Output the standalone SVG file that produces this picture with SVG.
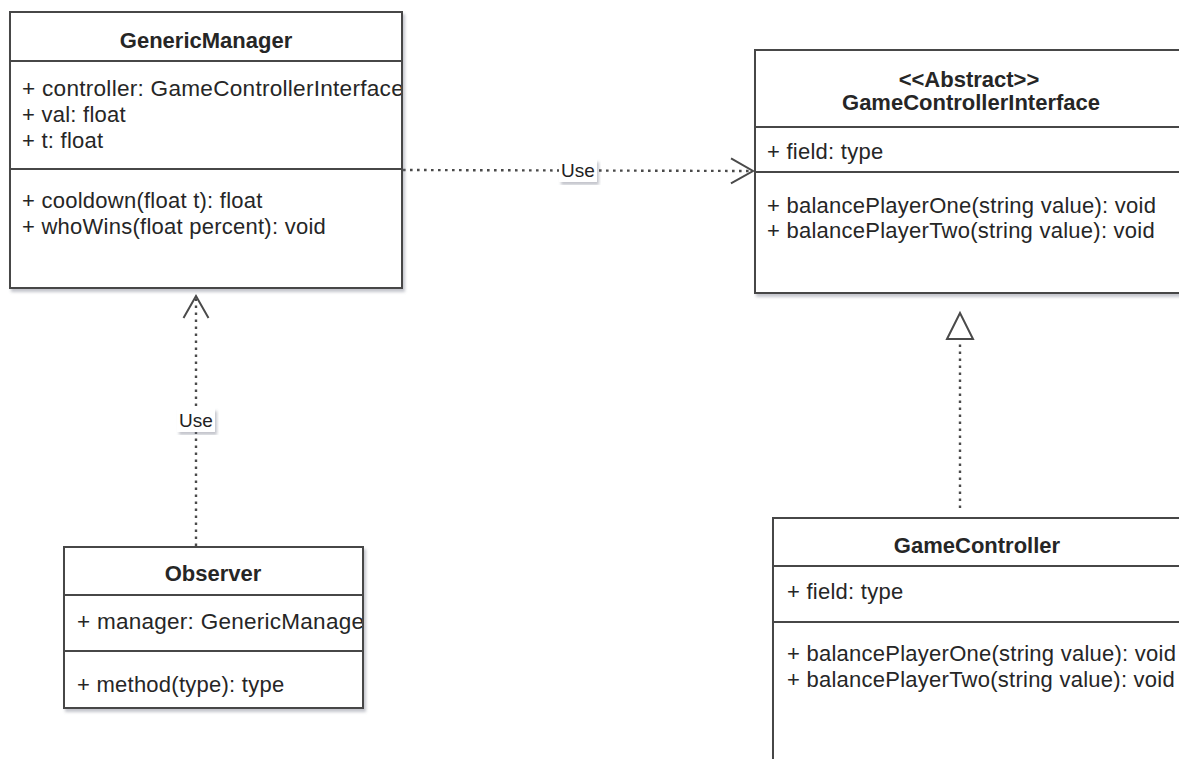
<svg xmlns="http://www.w3.org/2000/svg" width="1179" height="759" viewBox="0 0 1179 759">
  <style>
    .box { fill: #ffffff; stroke: #474747; stroke-width: 2; }
    .div { stroke: #474747; stroke-width: 2; fill: none; }
    .title { font-family: "Liberation Sans", Arial, sans-serif; font-size: 22px; font-weight: bold; fill: #262626; text-anchor: middle; }
    .item { font-family: "Liberation Sans", Arial, sans-serif; font-size: 22px; letter-spacing: 0.25px; fill: #262626; }
    .link { stroke: #4a4a4a; stroke-width: 2.4; fill: none; stroke-dasharray: 2.6 4.4; }
    .lbl-bg { fill: #ffffff; }
    .lbl { font-family: "Liberation Sans", Arial, sans-serif; font-size: 19px; fill: #222222; text-anchor: middle; }
  </style>
  <defs>
    <filter id="shadow" x="-5%" y="-5%" width="115%" height="115%">
      <feDropShadow dx="2" dy="3" stdDeviation="1.6" flood-color="#6a7080" flood-opacity="0.4"/>
    </filter>
    <marker id="open-arrow" markerUnits="userSpaceOnUse" markerWidth="40" markerHeight="40" refX="0" refY="0" orient="auto" overflow="visible">
      <path d="M-22,-12.5 L0,0 L-22,12.5" fill="none" stroke="#4a4a4a" stroke-width="2"/>
    </marker>
    <marker id="hollow-triangle" markerUnits="userSpaceOnUse" markerWidth="40" markerHeight="40" refX="0" refY="0" orient="auto" overflow="visible">
      <path d="M4,-13 L30,0 L4,13 Z" fill="#ffffff" stroke="#4a4a4a" stroke-width="2"/>
    </marker>
    <clipPath id="clip-gm"><rect x="11" y="13" width="390" height="274"/></clipPath>
    <clipPath id="clip-obs"><rect x="65" y="548" width="297" height="159"/></clipPath>
    <clipPath id="clip-gci"><rect x="756" y="51" width="423" height="241"/></clipPath>
    <clipPath id="clip-gc"><rect x="774" y="519" width="405" height="240"/></clipPath>
  </defs>

  <rect width="1179" height="759" fill="#ffffff"/>

  <!-- connectors -->
  <g id="connectors">
    <path class="link" d="M403,170 L753,171" marker-end="url(#open-arrow)"/>
    <rect class="lbl-bg" x="559" y="159" width="38" height="23" filter="url(#shadow)"/>
    <text class="lbl" x="578" y="177">Use</text>

    <path class="link" d="M196,546 L196,296" marker-end="url(#open-arrow)"/>
    <rect class="lbl-bg" x="177" y="408" width="38" height="24" filter="url(#shadow)"/>
    <text class="lbl" x="196" y="427">Use</text>

    <path class="link" d="M960,508 L960,343" marker-end="url(#hollow-triangle)"/>
  </g>

  <!-- GenericManager class -->
  <g id="generic-manager">
    <rect class="box" x="10" y="12" width="392" height="276" filter="url(#shadow)"/>
    <line class="div" x1="10" y1="61" x2="402" y2="61"/>
    <line class="div" x1="10" y1="169" x2="402" y2="169"/>
    <g clip-path="url(#clip-gm)">
      <text class="title" x="206" y="48">GenericManager</text>
      <text class="item" x="22" y="96" textLength="382" lengthAdjust="spacingAndGlyphs">+ controller: GameControllerInterface</text>
      <text class="item" x="22" y="122">+ val: float</text>
      <text class="item" x="22" y="148">+ t: float</text>
      <text class="item" x="22" y="208">+ cooldown(float t): float</text>
      <text class="item" x="22" y="234">+ whoWins(float percent): void</text>
    </g>
  </g>

  <!-- Observer class -->
  <g id="observer">
    <rect class="box" x="64" y="547" width="299" height="161" filter="url(#shadow)"/>
    <line class="div" x1="64" y1="595" x2="363" y2="595"/>
    <line class="div" x1="64" y1="651" x2="363" y2="651"/>
    <g clip-path="url(#clip-obs)">
      <text class="title" x="213" y="581">Observer</text>
      <text class="item" x="77" y="629" textLength="295" lengthAdjust="spacingAndGlyphs">+ manager: GenericManager</text>
      <text class="item" x="77" y="692">+ method(type): type</text>
    </g>
  </g>

  <!-- GameControllerInterface abstract class -->
  <g id="game-controller-interface">
    <rect class="box" x="755" y="50" width="432" height="243" filter="url(#shadow)"/>
    <line class="div" x1="755" y1="127" x2="1187" y2="127"/>
    <line class="div" x1="755" y1="172" x2="1187" y2="172"/>
    <g clip-path="url(#clip-gci)">
      <text class="title" x="969" y="87">&lt;&lt;Abstract&gt;&gt;</text>
      <text class="title" x="971" y="110">GameControllerInterface</text>
      <text class="item" x="767" y="159">+ field: type</text>
      <text class="item" x="767" y="213">+ balancePlayerOne(string value): void</text>
      <text class="item" x="767" y="238">+ balancePlayerTwo(string value): void</text>
    </g>
  </g>

  <!-- GameController class -->
  <g id="game-controller">
    <rect class="box" x="773" y="518" width="410" height="260" filter="url(#shadow)"/>
    <line class="div" x1="773" y1="566" x2="1183" y2="566"/>
    <line class="div" x1="773" y1="622" x2="1183" y2="622"/>
    <g clip-path="url(#clip-gc)">
      <text class="title" x="977" y="553">GameController</text>
      <text class="item" x="787" y="599">+ field: type</text>
      <text class="item" x="787" y="661">+ balancePlayerOne(string value): void</text>
      <text class="item" x="787" y="687">+ balancePlayerTwo(string value): void</text>
    </g>
  </g>
</svg>
